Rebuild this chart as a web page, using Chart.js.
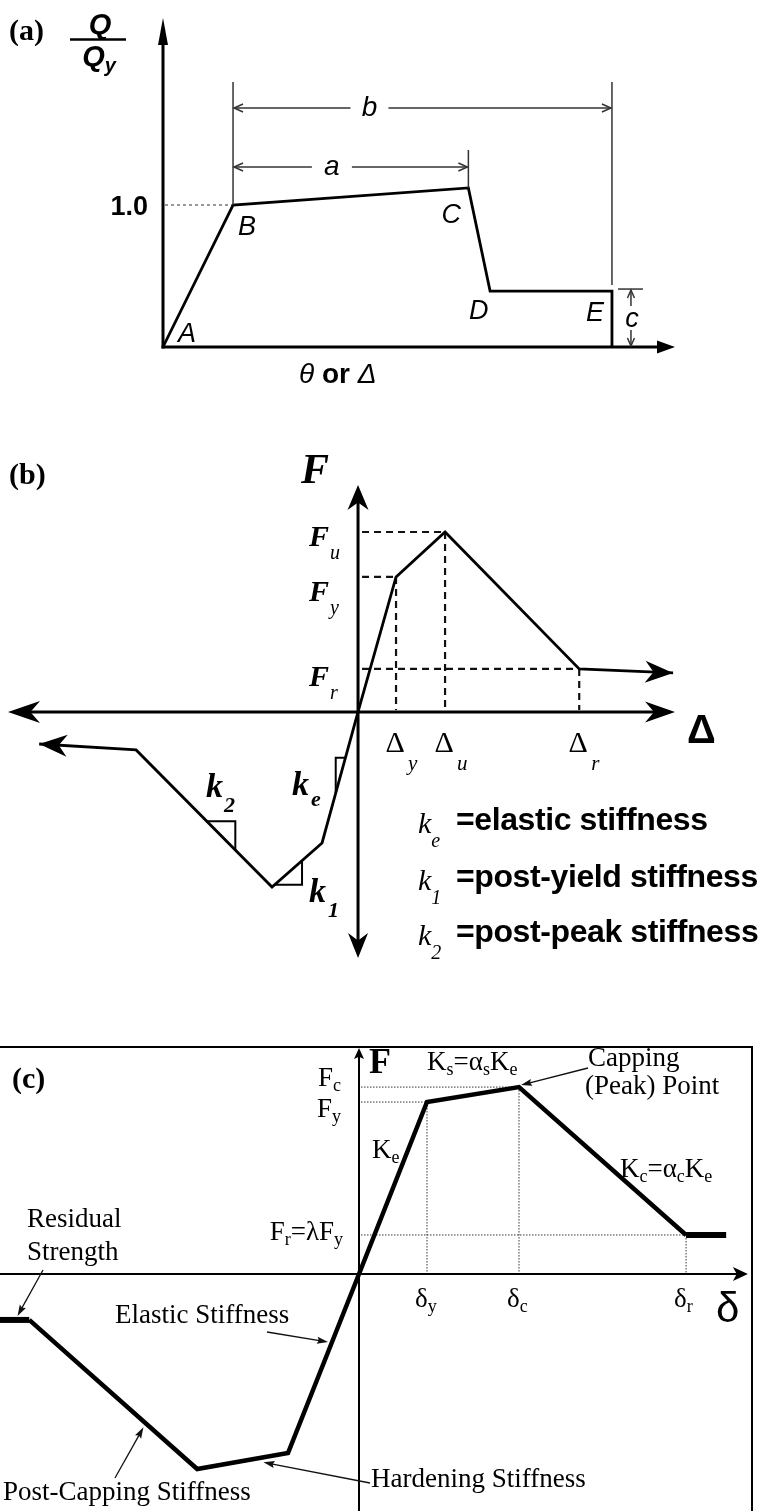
<!DOCTYPE html>
<html>
<head>
<meta charset="utf-8">
<script src="https://cdn.jsdelivr.net/npm/chart.js@4.4.1/dist/chart.umd.min.js"></script>
<style>
  html, body { margin: 0; padding: 0; background: #fff; }
  #wrap { position: relative; width: 767px; height: 1511px; overflow: hidden; background: #fff; }
  canvas { position: absolute; left: 0; }
</style>
</head>
<body>
<div id="wrap">
  <canvas id="pa" width="767" height="400" style="top:0px"></canvas>
  <canvas id="pb" width="767" height="580" style="top:410px"></canvas>
  <canvas id="pc" width="767" height="511" style="top:1000px"></canvas>
</div>
<script>
// ---------- (a) generalized force–deformation backbone (normalized) ----------
const aPointNames  = ['A', 'B', 'C', 'D', 'E'];
const aDeformation = [0, 1.0, 4.36, 4.67, 6.41, 6.41];
const aForceRatio  = [0, 1.0, 1.12, 0.394, 0.394, 0];
const aTickValues  = [1.0];
const aTickLabels  = ['1.0'];
const aAxisEnds    = [7.31, 2.317];          // x, y reach of the axis arrows

// ---------- (b) tri-linear backbone with residual branch ----------
const bDisp  = [-8.39, -5.84, -2.263, -0.947, 0, 1.0, 2.29, 5.82, 8.29];
const bForce = [-0.237, -0.281, -1.296, -0.970, 0, 1.0, 1.333, 0.319, 0.289];
const bForceTickNames = [['F', 'u'], ['F', 'y'], ['F', 'r']];
const bForceTickIdx   = [6, 5, 7];
const bDispTickNames  = [['\u0394', 'y'], ['\u0394', 'u'], ['\u0394', 'r']];
const bDispTickIdx    = [5, 6, 7];
const bLegend = [
  ['k', 'e', '=elastic stiffness'],
  ['k', '1', '=post-yield stiffness'],
  ['k', '2', '=post-peak stiffness']
];
const bAxis = [-9.21, 8.34, -1.822, 1.681];

// ---------- (c) peak-oriented model with capping and residual strength ----------
const cDisp  = [-5.28, -4.85, -2.38, -1.044, 0, 1.0, 2.353, 4.81, 5.40];
const cForce = [-0.267, -0.267, -1.134, -1.041, 0, 1.0, 1.087, 0.227, 0.227];
const cDispTickNames = [['\u03b4', 'y'], ['\u03b4', 'c'], ['\u03b4', 'r']];
const cDispTickIdx   = [5, 6, 7];
const cAxis = [-5.28, 5.78, -1.378, 1.32];
const cArrowEnd = 5.72;

const SERIF = '"Liberation Serif", "Times New Roman", serif';
const SANS  = '"Liberation Sans", Arial, sans-serif';
const A_TOP = 0, B_TOP = 410, C_TOP = 1000;

// ---------- drawing helpers ----------
function line(ctx, pts, w, color, dash) {
  ctx.save();
  ctx.beginPath();
  ctx.lineWidth = w;
  ctx.strokeStyle = color || '#000';
  ctx.setLineDash(dash || []);
  ctx.lineJoin = 'miter';
  pts.forEach((p, i) => i ? ctx.lineTo(p[0], p[1]) : ctx.moveTo(p[0], p[1]));
  ctx.stroke();
  ctx.restore();
}
// filled arrow head; notch < 1 gives a barbed back edge
function head(ctx, tip, from, len, hw, notch, color) {
  const a = Math.atan2(tip[1] - from[1], tip[0] - from[0]);
  const c = Math.cos(a), s = Math.sin(a);
  const bx = tip[0] - len * c, by = tip[1] - len * s;
  const nx = tip[0] - len * notch * c, ny = tip[1] - len * notch * s;
  ctx.save();
  ctx.fillStyle = color || '#000';
  ctx.beginPath();
  ctx.moveTo(tip[0], tip[1]);
  ctx.lineTo(bx - hw * s, by + hw * c);
  ctx.lineTo(nx, ny);
  ctx.lineTo(bx + hw * s, by - hw * c);
  ctx.closePath();
  ctx.fill();
  ctx.restore();
}
function openHead(ctx, tip, from, len, hw, w, color) {
  const a = Math.atan2(tip[1] - from[1], tip[0] - from[0]);
  const c = Math.cos(a), s = Math.sin(a);
  const bx = tip[0] - len * c, by = tip[1] - len * s;
  line(ctx, [[bx - hw * s, by + hw * c], tip, [bx + hw * s, by - hw * c]], w, color);
}
function arrow(ctx, tail, tip, w, len, hw) {
  const a = Math.atan2(tip[1] - tail[1], tip[0] - tail[0]);
  line(ctx, [tail, [tip[0] - 4 * Math.cos(a), tip[1] - 4 * Math.sin(a)]], w, '#111');
  head(ctx, tip, tail, len, hw, 0.85, '#111');
}
function txt(ctx, s, x, y, font, align, base) {
  ctx.font = font;
  ctx.textAlign = align || 'left';
  ctx.textBaseline = base || 'alphabetic';
  ctx.fillStyle = '#000';
  ctx.fillText(s, x, y);
  return ctx.measureText(s).width;
}
// runs of text: [string, font, dy, extraSpaceAfter]
function rich(ctx, x, y, parts, align) {
  let w = 0;
  parts.forEach(p => { ctx.font = p[1]; w += ctx.measureText(p[0]).width + (p[3] || 0); });
  let cx = align === 'right' ? x - w : align === 'center' ? x - w / 2 : x;
  ctx.textAlign = 'left';
  ctx.textBaseline = 'alphabetic';
  ctx.fillStyle = '#000';
  parts.forEach(p => {
    ctx.font = p[1];
    ctx.fillText(p[0], cx, y + (p[2] || 0));
    cx += ctx.measureText(p[0]).width + (p[3] || 0);
  });
  return w;
}
const lerp = (p, q, t) => [p[0] + (q[0] - p[0]) * t, p[1] + (q[1] - p[1]) * t];

function makeChart(id, xs, ys, bounds, pad, extra, plugin) {
  return new Chart(document.getElementById(id), {
    type: 'scatter',
    data: {
      datasets: [Object.assign({
        data: xs.map((x, i) => ({ x: x, y: ys[i] })),
        showLine: true,
        borderColor: '#000',
        backgroundColor: '#000',
        pointRadius: 0,
        pointHoverRadius: 0,
        tension: 0,
        fill: false,
        clip: false,
        borderJoinStyle: 'miter'
      }, extra)]
    },
    options: {
      responsive: false,
      animation: false,
      devicePixelRatio: 1,
      events: [],
      layout: { padding: pad },
      plugins: { legend: { display: false }, tooltip: { enabled: false }, title: { display: false } },
      scales: {
        x: { type: 'linear', display: false, min: bounds[0], max: bounds[1] },
        y: { type: 'linear', display: false, min: bounds[2], max: bounds[3] }
      }
    },
    plugins: [plugin]
  });
}

// ---------- (a) ----------
const aDecor = {
  id: 'aDecor',
  beforeDatasetsDraw(chart) {
    const { ctx, scales: { x, y } } = chart;
    const X = v => x.getPixelForValue(v), Y = v => y.getPixelForValue(v);
    const x0 = X(0), y0 = Y(0);
    line(ctx, [[x0, y0 + 1.5], [x0, Y(aAxisEnds[1]) + 20]], 3);
    head(ctx, [x0, Y(aAxisEnds[1])], [x0, y0], 27, 5, 1);
    line(ctx, [[x0 - 1.5, y0], [X(aAxisEnds[0]) - 12, y0]], 3);
    head(ctx, [X(aAxisEnds[0]), y0], [x0, y0], 18, 6.5, 1);
    aTickValues.forEach((v, i) => {
      line(ctx, [[x0 + 2, Y(v)], [X(aDeformation[1]), Y(v)]], 1.2, '#555', [3, 3]);
      txt(ctx, aTickLabels[i], x0 - 15, Y(v) + 10, 'bold 27px ' + SANS, 'right');
    });
  },
  afterDatasetsDraw(chart) {
    const { ctx, scales: { x, y } } = chart;
    const X = v => x.getPixelForValue(v), Y = v => y.getPixelForValue(v);
    const y0 = Y(0);
    const P = aDeformation.map((v, i) => [X(v), Y(aForceRatio[i])]);
    const off = [[15, -5], [5, 30], [-27, 35], [-21, 28], [-26, 30]];
    aPointNames.forEach((n, i) => txt(ctx, n, P[i][0] + off[i][0], P[i][1] + off[i][1], 'italic 27px ' + SANS));

    // extension lines for the a / b dimensions
    const g = '#333';
    line(ctx, [[P[1][0], 82], [P[1][0], P[1][1]]], 1.5, g);
    line(ctx, [[P[2][0], 150], [P[2][0], P[2][1]]], 1.5, g);
    line(ctx, [[P[4][0], 82], [P[4][0], P[4][1] - 6]], 1.5, g);
    const dim = (xa, xb, yy, label, frac, gap) => {
      const xm = xa + frac * (xb - xa);
      line(ctx, [[xa + 1, yy], [xm - gap, yy]], 1.5, g);
      line(ctx, [[xm + gap, yy], [xb - 1, yy]], 1.5, g);
      openHead(ctx, [xa + 1, yy], [xm, yy], 9, 4, 1.5, g);
      openHead(ctx, [xb - 1, yy], [xm, yy], 9, 4, 1.5, g);
      txt(ctx, label, xm, yy, 'italic 28px ' + SANS, 'center', 'middle');
    };
    dim(P[1][0], P[4][0], 108, 'b', 0.36, 19);
    dim(P[1][0], P[2][0], 167, 'a', 0.42, 20);

    // residual strength dimension c
    const cx = P[4][0] + 19, ct = P[4][1] - 2, cm = (ct + y0) / 2;
    line(ctx, [[P[4][0] + 6, ct], [P[4][0] + 31, ct]], 1.5, g);
    line(ctx, [[cx, ct + 1], [cx, cm - 12]], 1.5, g);
    line(ctx, [[cx, cm + 12], [cx, y0 - 1]], 1.5, g);
    openHead(ctx, [cx, ct + 1], [cx, cm], 8, 3.5, 1.5, g);
    openHead(ctx, [cx, y0 - 1], [cx, cm], 8, 3.5, 1.5, g);
    txt(ctx, 'c', cx + 1, cm + 1, 'italic 27px ' + SANS, 'center', 'middle');

    // axis captions
    rich(ctx, 299, 383, [['\u03b8', 'italic 28px ' + SANS, 0, 0], [' or ', 'bold 28px ' + SANS, 0, 0], ['\u0394', 'italic 28px ' + SANS, 0, 0]]);
    txt(ctx, 'Q', 100, 34, 'bold italic 29px ' + SANS, 'center');
    line(ctx, [[70, 39.5], [126, 39.5]], 2.5);
    rich(ctx, 99, 66, [['Q', 'bold italic 29px ' + SANS, 0], ['y', 'bold italic 20px ' + SANS, 6]], 'center');
    txt(ctx, '(a)', 9, 40, 'bold 30px ' + SERIF);
  }
};
makeChart('pa', aDeformation, aForceRatio, [0, aAxisEnds[0], 0, aAxisEnds[1]],
  { left: 163, right: 92, top: 18, bottom: 53 }, { borderWidth: 2.8 }, aDecor);

// ---------- (b) ----------
const bDecor = {
  id: 'bDecor',
  beforeDatasetsDraw(chart) {
    const { ctx, scales: { x, y } } = chart;
    const X = v => x.getPixelForValue(v), Y = v => y.getPixelForValue(v);
    const x0 = X(0), y0 = Y(0);
    const P = bDisp.map((v, i) => [X(v), Y(bForce[i])]);
    // axes with barbed heads
    line(ctx, [[X(bAxis[0]) + 20, y0], [X(bAxis[1]) - 20, y0]], 3);
    head(ctx, [X(bAxis[0]), y0], [x0, y0], 32, 11, 0.7);
    head(ctx, [X(bAxis[1]), y0], [x0, y0], 30, 10.5, 0.7);
    line(ctx, [[x0, Y(bAxis[3]) + 15], [x0, Y(bAxis[2]) - 15]], 3);
    head(ctx, [x0, Y(bAxis[3])], [x0, y0], 25, 10.5, 0.7);
    head(ctx, [x0, Y(bAxis[2])], [x0, y0], 25, 10, 0.7);
    // dashed guides
    const d = [7, 5];
    bForceTickIdx.forEach(i => line(ctx, [[x0 + 4, P[i][1]], [P[i][0], P[i][1]]], 2.2, '#111', d));
    bDispTickIdx.forEach(i => line(ctx, [[P[i][0], P[i][1]], [P[i][0], y0 - 2]], 2.2, '#111', d));
  },
  afterDatasetsDraw(chart) {
    const { ctx, scales: { x, y } } = chart;
    const X = v => x.getPixelForValue(v), Y = v => y.getPixelForValue(v);
    const P = bDisp.map((v, i) => [X(v), Y(bForce[i])]);
    const T = v => v - B_TOP;
    // arrow heads on the two residual branches
    head(ctx, P[0], P[1], 28, 11, 0.7);
    head(ctx, P[8], P[7], 28, 11, 0.7);
    // slope triangles: [from, to, t1, t2]
    const tri = [[4, 3, 0.35, 0.62], [1, 2, 0.52, 0.73], [2, 3, 0.05, 0.6]];
    tri.forEach(([i, j, t1, t2]) => {
      const p1 = lerp(P[i], P[j], t1), p2 = lerp(P[i], P[j], t2);
      line(ctx, [p1, [p2[0], p1[1]], p2], 2);
    });
    // force levels
    const fOff = [14, 24, 17];
    bForceTickIdx.forEach((i, k) => {
      rich(ctx, 309, P[i][1] + fOff[k], [
        [bForceTickNames[k][0], 'bold italic 30px ' + SERIF, 0, 1],
        [bForceTickNames[k][1], 'italic 20px ' + SERIF, 13]
      ]);
    });
    // displacement levels
    bDispTickIdx.forEach((i, k) => {
      txt(ctx, bDispTickNames[k][0], P[i][0] - 1, T(752), '30px ' + SERIF, 'center');
      txt(ctx, bDispTickNames[k][1], P[i][0] + 12, T(770), 'italic 21px ' + SERIF);
    });
    txt(ctx, '\u0394', 687, T(743), 'bold 40px ' + SANS);
    txt(ctx, 'F', 301, T(483), 'bold italic 42px ' + SERIF);
    txt(ctx, '(b)', 9, T(484), 'bold 30px ' + SERIF);
    // stiffness tags on the curve
    rich(ctx, 206, T(797), [['k', 'bold italic 34px ' + SERIF, 0, 1], ['2', 'bold italic 22px ' + SERIF, 15]]);
    rich(ctx, 292, T(795), [['k', 'bold italic 34px ' + SERIF, 0, 2], ['e', 'bold italic 22px ' + SERIF, 11]]);
    rich(ctx, 309, T(902), [['k', 'bold italic 34px ' + SERIF, 0, 2], ['1', 'bold italic 22px ' + SERIF, 15]]);
    // legend
    const rows = [830, 887, 942];
    bLegend.forEach((r, k) => {
      rich(ctx, 418, T(rows[k] + 3), [['k', 'italic 30px ' + SERIF, 0, 0], [r[1], 'italic 20px ' + SERIF, 14]]);
      ctx.letterSpacing = '-0.4px';
      txt(ctx, r[2], 456, T(rows[k]), 'bold 32px ' + SANS);
      ctx.letterSpacing = '0px';
    });
  }
};
makeChart('pb', bDisp, bForce, bAxis,
  { left: 8, right: 92, top: 75, bottom: 32 }, { borderWidth: 2.8 }, bDecor);

// ---------- (c) ----------
const cDecor = {
  id: 'cDecor',
  beforeDatasetsDraw(chart) {
    const { ctx, chartArea: ca, scales: { x, y } } = chart;
    const X = v => x.getPixelForValue(v), Y = v => y.getPixelForValue(v);
    const x0 = X(0), y0 = Y(0);
    const P = cDisp.map((v, i) => [X(v), Y(cForce[i])]);
    // frame
    line(ctx, [[0, ca.top], [ca.right, ca.top], [ca.right, ca.bottom + 2]], 2);
    // axes
    line(ctx, [[0, y0], [X(cArrowEnd) - 8, y0]], 2);
    head(ctx, [X(cArrowEnd), y0], [x0, y0], 15, 7, 0.75);
    line(ctx, [[x0, ca.bottom + 2], [x0, ca.top + 6]], 2);
    head(ctx, [x0, ca.top + 1], [x0, y0], 11, 5, 0.8);
    // dotted guides
    const dt = [1.5, 1.5];
    [6, 5, 7].forEach(i => line(ctx, [[x0 + 2, P[i][1]], [P[i][0], P[i][1]]], 1, '#333', dt));
    cDispTickIdx.forEach(i => line(ctx, [[P[i][0], P[i][1]], [P[i][0], y0 - 1]], 1, '#333', dt));
  },
  afterDatasetsDraw(chart) {
    const { ctx, scales: { x, y } } = chart;
    const X = v => x.getPixelForValue(v), Y = v => y.getPixelForValue(v);
    const P = cDisp.map((v, i) => [X(v), Y(cForce[i])]);
    const T = v => v - C_TOP;
    const F = '27px ' + SERIF, S = '18px ' + SERIF;
    txt(ctx, '(c)', 12, T(1088), 'bold 30px ' + SERIF);
    txt(ctx, 'F', 369, T(1073), 'bold 36px ' + SERIF);
    rich(ctx, 341, P[6][1] - 1, [['F', F, 0], ['c', S, 5]], 'right');
    rich(ctx, 341, P[5][1] + 15, [['F', F, 0], ['y', S, 5]], 'right');
    rich(ctx, 343, P[7][1] + 5, [['F', F, 0], ['r', S, 5], ['=\u03bbF', F, 0], ['y', S, 5]], 'right');
    rich(ctx, 372, T(1158), [['K', F, 0], ['e', S, 5]]);
    rich(ctx, 427, T(1070), [['K', F, 0], ['s', S, 5], ['=\u03b1', F, 0], ['s', S, 5], ['K', F, 0], ['e', S, 5]]);
    rich(ctx, 620, T(1177), [['K', F, 0], ['c', S, 5], ['=\u03b1', F, 0], ['c', S, 5], ['K', F, 0], ['e', S, 5]]);
    txt(ctx, 'Capping', 588, T(1066), F);
    txt(ctx, '(Peak) Point', 585, T(1094), F);
    cDispTickIdx.forEach((i, k) => {
      rich(ctx, P[i][0] - 12, T(1307), [[cDispTickNames[k][0], F, 0], [cDispTickNames[k][1], S, 5]]);
    });
    txt(ctx, '\u03b4', 716, T(1322), '42px ' + SANS);
    txt(ctx, 'Residual', 27, T(1227), F);
    txt(ctx, 'Strength', 27, T(1260), F);
    txt(ctx, 'Elastic Stiffness', 115, T(1323), F);
    txt(ctx, 'Post-Capping Stiffness', 3, T(1500), F);
    txt(ctx, 'Hardening Stiffness', 371, T(1487), F);
    // leader arrows
    const on = (i, t, dx, dy) => { const p = lerp(P[i], P[i + 1], t); return [p[0] + dx, p[1] + dy]; };
    arrow(ctx, [588, T(1068)], [P[6][0] + 2, P[6][1] - 2], 1.3, 11, 3.5);
    arrow(ctx, [43, T(1270)], on(0, 0.6, 0, -4), 1.3, 11, 3.5);
    arrow(ctx, [267, T(1332)], on(3, 0.62, -4, 0), 1.3, 11, 3.5);
    arrow(ctx, [115, T(1478)], on(1, 0.68, 0, 6), 1.3, 11, 3.5);
    arrow(ctx, [370, T(1483)], on(2, 0.73, 0, 5), 1.3, 11, 3.5);
  }
};
makeChart('pc', cDisp, cForce, cAxis,
  { left: 0, right: 15, top: 47, bottom: 0 },
  { borderWidth: 4.5, segment: { borderWidth: c => (c.p0DataIndex === 0 || c.p0DataIndex === 7) ? 6 : 4.5 } },
  cDecor);
</script>
</body>
</html>
